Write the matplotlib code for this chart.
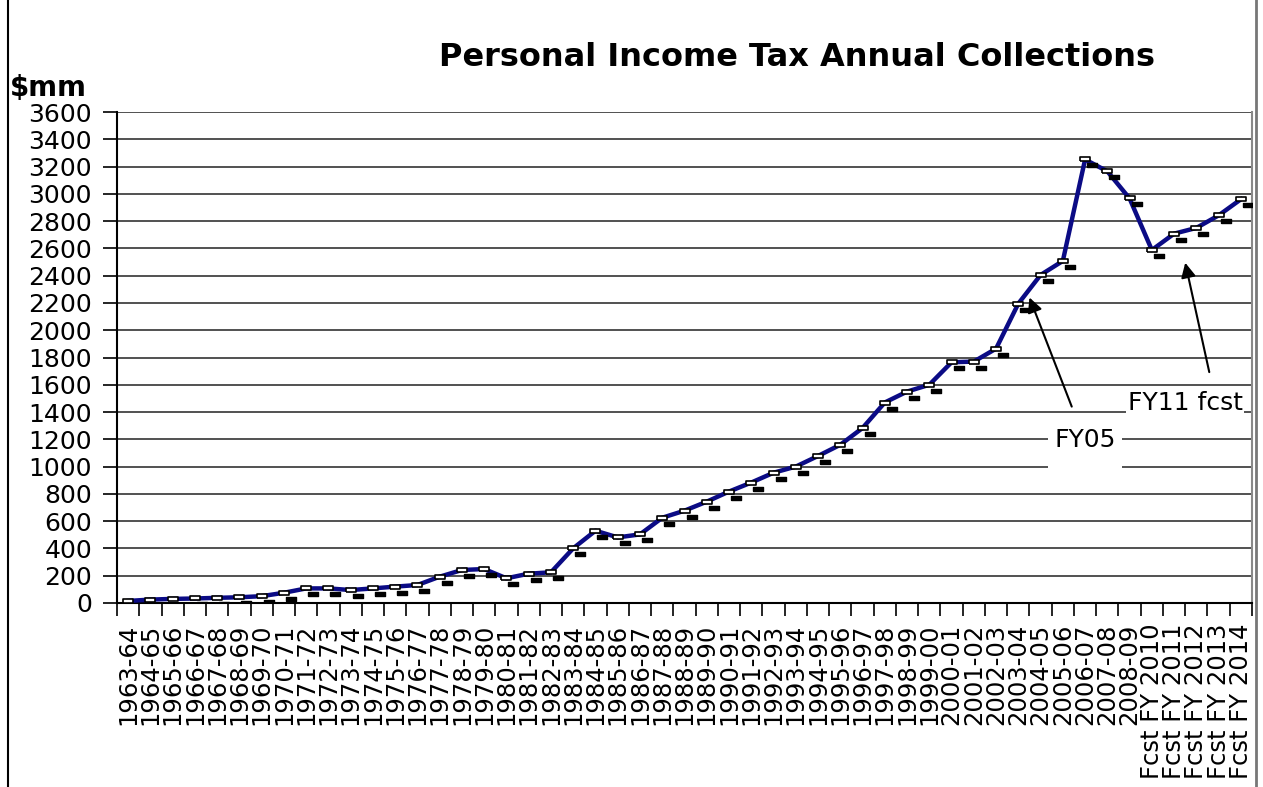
import matplotlib
matplotlib.use("Agg")
import matplotlib.pyplot as plt
import matplotlib.transforms as mtransforms
from matplotlib.lines import Line2D
from matplotlib.patches import Rectangle

categories = ["1963-64", "1964-65", "1965-66", "1966-67", "1967-68", "1968-69", "1969-70",
              "1970-71", "1971-72", "1972-73", "1973-74", "1974-75", "1975-76", "1976-77",
              "1977-78", "1978-79", "1979-80", "1980-81", "1981-82", "1982-83", "1983-84",
              "1984-85", "1985-86", "1986-87", "1987-88", "1988-89", "1989-90", "1990-91",
              "1991-92", "1992-93", "1993-94", "1994-95", "1995-96", "1996-97", "1997-98",
              "1998-99", "1999-00", "2000-01", "2001-02", "2002-03", "2003-04", "2004-05",
              "2005-06", "2006-07", "2007-08", "2008-09", "Fcst FY 2010", "Fcst FY 2011",
              "Fcst FY 2012", "Fcst FY 2013", "Fcst FY 2014"]
collections = [15, 25, 30, 33, 38, 42, 50, 75, 107, 107, 95, 107, 120, 132, 193, 242, 249,
               181, 215, 225, 401, 530, 481, 503, 625, 677, 743, 817, 883, 955, 1000, 1078,
               1160, 1283, 1470, 1550, 1600, 1765, 1770, 1865, 2195, 2405, 2508, 3252, 3165,
               2966, 2588, 2708, 2750, 2842, 2960]
y_ticks = list(range(0, 3601, 200))

W, H = 1263, 787
fig = plt.figure(figsize=(W / 100, H / 100), dpi=100)
ax = fig.add_axes([117 / W, 1 - 603 / H, (1252 - 117) / W, (603 - 112) / H])

x = list(range(len(categories)))
ax.plot(x, collections, color="#0b0b85", lw=3.2, zorder=3, solid_joinstyle="round")

rect = [(-1, -0.55), (1, -0.55), (1, 0.55), (-1, 0.55), (-1, -0.55)]
shadow = mtransforms.offset_copy(ax.transData, fig=fig, x=7, y=-6, units="dots")
ax.plot(x, collections, ls="none", marker=rect, ms=6.5, mfc="black", mec="black",
        mew=1.0, transform=shadow, zorder=4)
ax.plot(x, collections, ls="none", marker=rect, ms=6.5, mfc="white", mec="black",
        mew=1.2, zorder=5)

ax.set_xlim(-0.5, len(categories) - 0.5)
ax.set_ylim(0, 3600)
ax.set_yticks(y_ticks)
ax.set_yticklabels([str(v) for v in y_ticks], fontsize=18)
ax.set_xticks(x)
ax.set_xticklabels(categories, rotation=90, fontsize=17.5)
ax.set_xticks([i - 0.5 for i in range(len(categories) + 1)], minor=True)
ax.tick_params(axis="x", which="major", length=0, pad=15)
ax.tick_params(axis="x", which="minor", length=9, width=1.2, color="black")
ax.tick_params(axis="y", length=10, width=1.2, pad=8, color="black")

ax.grid(axis="y", color="#333333", lw=1.2, zorder=1)
ax.set_axisbelow(True)
ax.spines["top"].set_visible(False)
ax.spines["right"].set_color("#888888")
ax.spines["right"].set_linewidth(1.5)
ax.spines["left"].set_linewidth(1.5)
ax.spines["bottom"].set_linewidth(1.5)

# annotations
ax.add_patch(Rectangle((41.35, 975), 3.3, 400, facecolor="white", edgecolor="none", zorder=2))
ax.text(43.0, 1195, "FY05", fontsize=18, ha="center", va="center", zorder=6)
ax.annotate("", xy=(40.5, 2240), xytext=(42.4, 1440),
            arrowprops=dict(arrowstyle="-|>", color="black", lw=1.5, mutation_scale=22,
                            shrinkA=0, shrinkB=0), zorder=6)
ax.text(47.5, 1466, "FY11 fcst", fontsize=18, ha="center", va="center", zorder=6,
        bbox=dict(facecolor="white", edgecolor="none", pad=1))
ax.annotate("", xy=(47.5, 2495), xytext=(48.58, 1693),
            arrowprops=dict(arrowstyle="-|>", color="black", lw=1.5, mutation_scale=22,
                            shrinkA=0, shrinkB=0), zorder=6)

fig.text(797 / W, 1 - 57 / H, "Personal Income Tax Annual Collections", fontsize=23,
         fontweight="bold", ha="center", va="center")
fig.text(10 / W, 1 - 88 / H, "$mm", fontsize=20, fontweight="bold", ha="left", va="center")

fig.add_artist(Line2D([7.5 / W, 7.5 / W], [0, 1], color="black", lw=1.5))
fig.add_artist(Line2D([1256 / W, 1256 / W], [0, 1], color="#777777", lw=2))

fig.savefig("out.png", dpi=100, facecolor="white")
